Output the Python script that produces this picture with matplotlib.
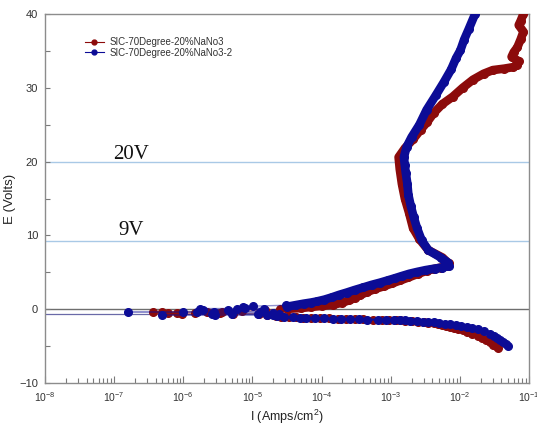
import matplotlib
matplotlib.use("Agg")
import matplotlib.pyplot as plt
from matplotlib.lines import Line2D

plt.rcParams['font.family'] = ['Liberation Sans', 'DejaVu Sans']
plt.rcParams['mathtext.fontset'] = 'custom'
plt.rcParams['mathtext.rm'] = 'Liberation Sans'
plt.rcParams['mathtext.it'] = 'Liberation Sans:italic'

# ---------------- data (I in A/cm^2, E in V) ----------------
series_names = ["SIC-70Degree-20%NaNo3", "SIC-70Degree-20%NaNo3-2"]
series_colors = ["#8c0b0b", "#0c0c96"]

# red series
red_cath_I = [3.6e-2, 3.3e-2, 3.0e-2, 2.7e-2, 2.4e-2, 2.1e-2, 1.8e-2, 1.5e-2, 1.26e-2, 1.1e-2,
              9.5e-3, 8.2e-3, 7.2e-3, 6.2e-3, 5.5e-3, 4.8e-3, 4.2e-3, 3.5e-3, 3.0e-3, 2.5e-3,
              2.0e-3, 1.6e-3, 1.38e-3, 1.2e-3, 9.5e-4, 7.4e-4, 5.6e-4, 4.0e-4, 3.0e-4, 2.25e-4,
              1.7e-4, 1.3e-4, 9.5e-5, 7.0e-5, 5.4e-5, 4.3e-5, 3.4e-5, 2.6e-5]
red_cath_E = [-5.2, -4.95, -4.8, -4.5, -4.2, -3.85, -3.6, -3.3, -3.07, -2.85,
              -2.7, -2.55, -2.4, -2.28, -2.15, -2.03, -1.9, -1.82, -1.75, -1.68,
              -1.6, -1.55, -1.5, -1.47, -1.45, -1.43, -1.41, -1.39, -1.35, -1.32,
              -1.29, -1.25, -1.2, -1.16, -1.14, -1.1, -1.05, -1.0]
red_mid_I = [2.2e-5, 1.6e-5, 1.23e-5, 5.2e-6, 9.5e-7, 3.7e-7, 6.0e-7, 8.0e-7, 1.48e-6, 2.2e-6,
             3.6e-6, 3.4e-6, 4.9e-7, 7.0e-6, 1.5e-5, 2.5e-5]
red_mid_E = [-0.9, -0.72, -0.59, -0.59, -0.68, -0.36, -0.5, -0.5, -0.5, -0.36,
             -0.36, -0.5, -0.36, -0.3, -0.1, 0.0]
red_an_I = [3.2e-5, 5.0e-5, 7.0e-5, 1.0e-4, 1.48e-4, 2.0e-4, 2.5e-4, 3.0e-4, 3.6e-4, 4.6e-4,
            6.0e-4, 7.9e-4, 1.05e-3, 1.38e-3, 1.8e-3, 2.5e-3, 3.3e-3, 4.2e-3, 5.3e-3, 6.5e-3,
            6.9e-3, 5.6e-3, 3.5e-3, 2.6e-3, 2.1e-3, 1.85e-3, 1.6e-3, 1.45e-3, 1.35e-3, 1.3e-3,
            1.6e-3, 2.1e-3, 2.7e-3, 3.4e-3, 4.2e-3, 5.6e-3, 7.9e-3, 1.1e-2, 1.55e-2, 2.2e-2,
            3.0e-2, 4.4e-2, 5.9e-2, 6.8e-2, 7.1e-2, 5.6e-2, 6.0e-2, 6.8e-2, 7.6e-2, 8.3e-2,
            7.1e-2, 7.6e-2, 8.3e-2]
red_an_E = [0.05, 0.15, 0.3, 0.45, 0.6, 0.9, 1.2, 1.5, 1.9, 2.35,
            2.75, 3.1, 3.5, 3.9, 4.3, 4.8, 5.2, 5.45, 5.65, 5.85,
            6.2, 7.0, 8.0, 9.5, 11.0, 13.0, 15.0, 17.0, 19.0, 20.6,
            21.8, 23.0, 24.3, 25.4, 26.6, 27.8, 28.8, 30.0, 31.1, 31.9,
            32.4, 32.6, 32.8, 33.1, 33.6, 34.2, 34.8, 35.5, 36.6, 37.6,
            38.5, 39.1, 40.0]

# blue series
blue_cath_I = [5.0e-2, 4.6e-2, 4.2e-2, 3.8e-2, 3.4e-2, 3.1e-2, 2.7e-2, 2.2e-2, 1.8e-2, 1.5e-2,
               1.26e-2, 1.05e-2, 8.7e-3, 7.2e-3, 6.0e-3, 5.0e-3, 4.2e-3, 3.5e-3, 2.9e-3, 2.4e-3,
               1.9e-3, 1.6e-3, 1.38e-3, 1.1e-3, 8.5e-4, 6.6e-4, 4.6e-4, 3.5e-4, 2.6e-4, 1.9e-4,
               1.48e-4, 1.1e-4, 8.0e-5, 6.0e-5, 4.9e-5, 3.8e-5, 2.9e-5, 2.3e-5]
blue_cath_E = [-5.0, -4.7, -4.45, -4.2, -3.9, -3.66, -3.35, -2.98, -2.7, -2.5,
               -2.35, -2.22, -2.12, -2.03, -1.95, -1.87, -1.8, -1.74, -1.68, -1.63,
               -1.57, -1.52, -1.49, -1.46, -1.44, -1.42, -1.4, -1.37, -1.33, -1.3,
               -1.27, -1.23, -1.18, -1.15, -1.13, -1.08, -1.02, -0.98]
blue_mid_I = [2.0e-5, 1.6e-5, 2.9e-6, 4.9e-7, 1.2e-5, 2.6e-6, 5.0e-6, 2.4e-5, 2.0e-5, 1.0e-6,
              1.6e-7, 2.75e-6, 1.3e-5, 1.57e-6, 4.5e-6, 1.95e-6, 1.75e-6, 5.9e-6, 1.45e-5, 7.8e-6,
              7.4e-6, 1.03e-5, 3.1e-5]
blue_mid_E = [-0.81, -0.81, -0.81, -0.81, -0.62, -0.62, -0.59, -0.59, -0.55, -0.4,
              -0.36, -0.36, -0.36, -0.32, -0.14, -0.12, 0.09, 0.09, 0.09, 0.18,
              0.32, 0.41, 0.54]
blue_an_I = [3.2e-5, 4.2e-5, 5.5e-5, 7.0e-5, 8.5e-5, 1.1e-4, 1.4e-4, 1.8e-4, 2.3e-4, 3.0e-4,
             4.0e-4, 5.3e-4, 7.0e-4, 9.0e-4, 1.15e-3, 1.45e-3, 1.85e-3, 2.4e-3, 3.2e-3, 4.3e-3,
             5.6e-3, 7.0e-3, 6.8e-3, 5.3e-3, 3.5e-3, 2.8e-3, 2.4e-3, 2.15e-3, 1.95e-3, 1.8e-3,
             1.74e-3, 1.65e-3, 1.6e-3, 1.55e-3, 1.7e-3, 2.0e-3, 2.6e-3, 3.3e-3, 4.5e-3, 5.9e-3,
             7.5e-3, 8.8e-3, 1.02e-2, 1.15e-2, 1.35e-2, 1.66e-2]
blue_an_E = [0.35, 0.55, 0.75, 0.9, 1.05, 1.3, 1.6, 1.95, 2.25, 2.6,
             2.95, 3.3, 3.6, 3.9, 4.2, 4.5, 4.8, 5.05, 5.3, 5.5,
             5.65, 5.85, 6.3, 7.0, 8.0, 9.35, 11.0, 12.5, 14.0, 15.5,
             17.0, 18.5, 19.5, 20.6, 22.0, 23.3, 25.0, 27.0, 29.0, 30.8,
             32.5, 34.0, 35.1, 36.5, 38.0, 40.0]

ref_levels = [20.0, 9.2]
ref_labels = ["20V", "9V"]
ref_label_pos = [(9.6e-8, 20.4), (1.14e-7, 10.0)]
zero_level = 0.0
ecorr_line = -0.6

x_ticks = [1e-8, 1e-7, 1e-6, 1e-5, 1e-4, 1e-3, 1e-2, 1e-1]
x_ticklabels = [r"$10^{-8}$", r"$10^{-7}$", r"$10^{-6}$", r"$10^{-5}$",
                r"$10^{-4}$", r"$10^{-3}$", r"$10^{-2}$", r"$10^{-1}$"]
y_ticks = [-10, 0, 10, 20, 30, 40]

# ---------------- figure ----------------
fig = plt.figure(figsize=(5.37, 4.30), dpi=100)
ax = fig.add_axes([45/537, 1-383/430, 484/537, 369/430])
ax.set_xscale('log')
ax.set_xlim(1e-8, 1e-1)
ax.set_ylim(-10, 40)

# reference lines
for lv in ref_levels:
    ax.axhline(lv, color='#a9c9e6', lw=1.0, zorder=1)
ax.axhline(zero_level, color='#6e6e6e', lw=1.0, zorder=1)
ax.plot([1e-8, 2e-5], [ecorr_line, ecorr_line], color='#6a6aa8', lw=0.9, zorder=1)

for (x, y), t in zip(ref_label_pos, ref_labels):
    ax.text(x, y, t, family=['Liberation Serif', 'DejaVu Serif'], fontsize=15,
            va='baseline', ha='left', color='#111111', zorder=2)

data = [
    (red_cath_I, red_cath_E, red_mid_I, red_mid_E, red_an_I, red_an_E),
    (blue_cath_I, blue_cath_E, blue_mid_I, blue_mid_E, blue_an_I, blue_an_E),
]
for k, (ci, ce, mi, me, ai, ae) in enumerate(data):
    col = series_colors[k]
    z = 3 + k * 3
    ax.plot(ci, ce, color=col, lw=1.5, marker='o', ms=5.5, mec=col, mfc=col, zorder=z)
    ax.plot([ci[-1]] + mi + [ai[0]], [ce[-1]] + me + [ae[0]], color=col, lw=1.0,
            alpha=0.45, zorder=z)
    ax.plot(mi, me, ls='none', marker='o', ms=5.5, mec=col, mfc=col, zorder=z + 1)
    ax.plot(ai, ae, color=col, lw=6.2, solid_capstyle='round', solid_joinstyle='round',
            zorder=z + 1)
    ax.plot(ai, ae, ls='none', marker='o', ms=5.5, mec=col, mfc=col, zorder=z + 1)

# axes styling
for s in ax.spines.values():
    s.set_color('#8c8c8c')
    s.set_linewidth(1.0)
ax.set_xticks(x_ticks)
ax.set_xticklabels(x_ticklabels)
ax.set_yticks(y_ticks)
ax.set_yticks([-5, 5, 15, 25, 35], minor=True)
ax.tick_params(axis='x', which='major', direction='in', length=5, width=0.8,
               color='#7a7a7a', labelsize=7.5, labelcolor='#333333', pad=5)
ax.tick_params(axis='x', which='minor', direction='in', length=3.5, width=0.8,
               color='#7a7a7a')
ax.tick_params(axis='y', which='both', direction='in', length=3.5, width=0.8,
               color='#7a7a7a', labelsize=8, labelcolor='#333333', pad=5)
ax.tick_params(top=False, right=False, which='both')

ax.set_xlabel(r"I (Amps/cm$^{2}$)", fontsize=9, color='#222222', labelpad=3)
ax.set_ylabel("E (Volts)", fontsize=9.5, color='#222222')
ax.yaxis.set_label_coords(-29/484, 0.5)

handles = [Line2D([0], [0], color=c, lw=0.8, marker='o', ms=3.5, mfc=c, mec=c)
           for c in series_colors]
leg = ax.legend(handles, series_names, loc='upper left', bbox_to_anchor=(0.068, 0.955),
                frameon=False, fontsize=7, handlelength=2.0, handletextpad=0.6,
                labelspacing=0.05, borderpad=0.2)
for t in leg.get_texts():
    t.set_color('#333333')

fig.savefig("out.png", dpi=100)
